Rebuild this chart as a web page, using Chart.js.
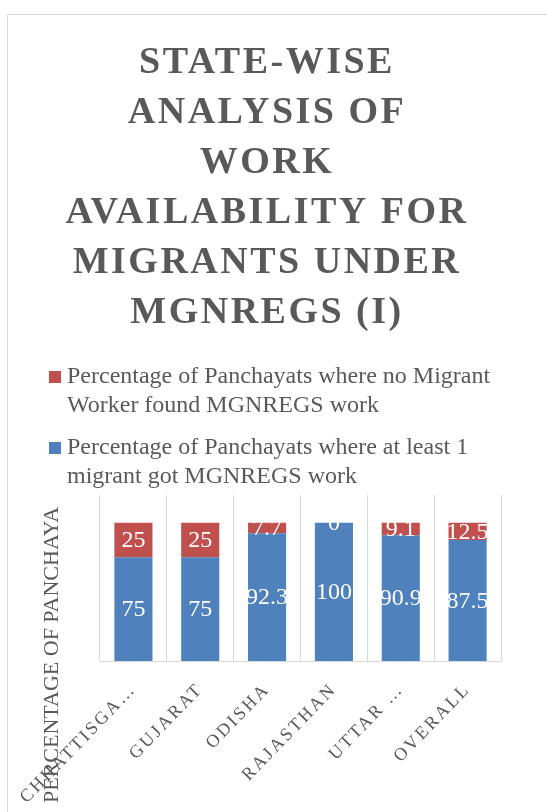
<!DOCTYPE html>
<html>
<head>
<meta charset="utf-8">
<script src="https://cdn.jsdelivr.net/npm/chart.js@4.4.0/dist/chart.umd.min.js"></script>
<style>
html, body { margin: 0; padding: 0; background: #fff; overflow: hidden; }
#frame { position: absolute; left: 7px; top: 14px; width: 600px; height: 900px; border: 1px solid #d9d9d9; }
#chart { position: absolute; left: 8px; top: 15px; }
</style>
</head>
<body>
<div id="frame"></div>
<canvas id="chart" width="539" height="797"></canvas>
<script>
// Chart data
const categories = ['CHHATTISGA\u2026', 'GUJARAT', 'ODISHA', 'RAJASTHAN', 'UTTAR \u2026', 'OVERALL'];
const gotWork = [75, 75, 92.3, 100, 90.9, 87.5];
const noWork = [25, 25, 7.7, 0, 9.1, 12.5];

const titleLines = ['STATE-WISE', 'ANALYSIS OF', 'WORK', 'AVAILABILITY FOR', 'MIGRANTS UNDER', 'MGNREGS (I)'];
const noWorkLabel = ['Percentage of Panchayats where no Migrant', 'Worker found MGNREGS work'];
const gotWorkLabel = ['Percentage of Panchayats where at least 1', 'migrant got MGNREGS work'];
const yAxisTitle = 'PERCENTAGE OF PANCHAYA';

const blue = '#4f81bd';
const red = '#c0504d';
const grey = '#595959';
const serif = "'Liberation Serif', 'Times New Roman', serif";

// Letter spacing for the title and the axis labels only
const spacingPlugin = {
    id: 'spacing',
    beforeDraw(chart) {
        chart.ctx.letterSpacing = '2.5px';
    },
    beforeDatasetsDraw(chart) {
        chart.ctx.letterSpacing = '0px';
    }
};

// White value labels in the middle of each bar segment
const barLabelsPlugin = {
    id: 'barLabels',
    afterDatasetsDraw(chart) {
        const ctx = chart.ctx;
        ctx.save();
        ctx.fillStyle = '#ffffff';
        ctx.font = '24px ' + serif;
        ctx.textAlign = 'center';
        ctx.textBaseline = 'middle';
        chart.data.datasets.forEach((ds, i) => {
            const meta = chart.getDatasetMeta(i);
            meta.data.forEach((bar, j) => {
                const { x, y, base } = bar.getProps(['x', 'y', 'base'], true);
                ctx.fillText(String(ds.data[j]), x, (y + base) / 2 + 1);
            });
        });
        ctx.restore();
    }
};

// Legend with wrapped labels, and the y axis title
const legendPlugin = {
    id: 'wrappedLegend',
    afterDraw(chart) {
        const ctx = chart.ctx;
        ctx.save();
        ctx.letterSpacing = '0px';
        ctx.font = '24px ' + serif;
        ctx.textBaseline = 'middle';
        ctx.textAlign = 'left';
        const items = [
            { color: red, lines: noWorkLabel, y: 362 },
            { color: blue, lines: gotWorkLabel, y: 433 }
        ];
        items.forEach(item => {
            ctx.fillStyle = item.color;
            ctx.fillRect(41, item.y - 6, 12, 12);
            ctx.fillStyle = grey;
            item.lines.forEach((line, k) => {
                ctx.fillText(line, 59, item.y + k * 29);
            });
        });

        ctx.translate(44, 788);
        ctx.rotate(-Math.PI / 2);
        ctx.font = '22px ' + serif;
        ctx.fillText(yAxisTitle, 0, 0);
        ctx.restore();
    }
};

const ctx = document.getElementById('chart').getContext('2d');
new Chart(ctx, {
    type: 'bar',
    data: {
        labels: categories,
        datasets: [
            {
                label: gotWorkLabel.join(' '),
                data: gotWork,
                backgroundColor: blue,
                barPercentage: 0.57,
                categoryPercentage: 1
            },
            {
                label: noWorkLabel.join(' '),
                data: noWork,
                backgroundColor: red,
                barPercentage: 0.57,
                categoryPercentage: 1
            }
        ]
    },
    options: {
        responsive: false,
        animation: false,
        layout: {
            padding: { left: 25, right: 46, top: 0, bottom: 0 }
        },
        plugins: {
            legend: { display: false },
            tooltip: { enabled: false },
            title: {
                display: true,
                text: titleLines,
                color: grey,
                font: { family: serif, size: 38, weight: 'bold', lineHeight: 50 / 38 },
                padding: { top: 23, bottom: 157 }
            }
        },
        scales: {
            x: {
                stacked: true,
                grid: { color: '#d9d9d9', offset: true, drawTicks: false },
                border: { color: '#d9d9d9' },
                ticks: {
                    color: grey,
                    font: { family: serif, size: 18 },
                    minRotation: 46,
                    maxRotation: 46,
                    autoSkip: false,
                    padding: 18
                },
                afterFit(scale) {
                    scale.height = 151;
                }
            },
            y: {
                stacked: true,
                min: 0,
                max: 120,
                ticks: { display: false },
                grid: { display: false },
                border: { display: false },
                afterFit(scale) {
                    scale.width = 67;
                }
            }
        }
    },
    plugins: [spacingPlugin, barLabelsPlugin, legendPlugin]
});
</script>
</body>
</html>
